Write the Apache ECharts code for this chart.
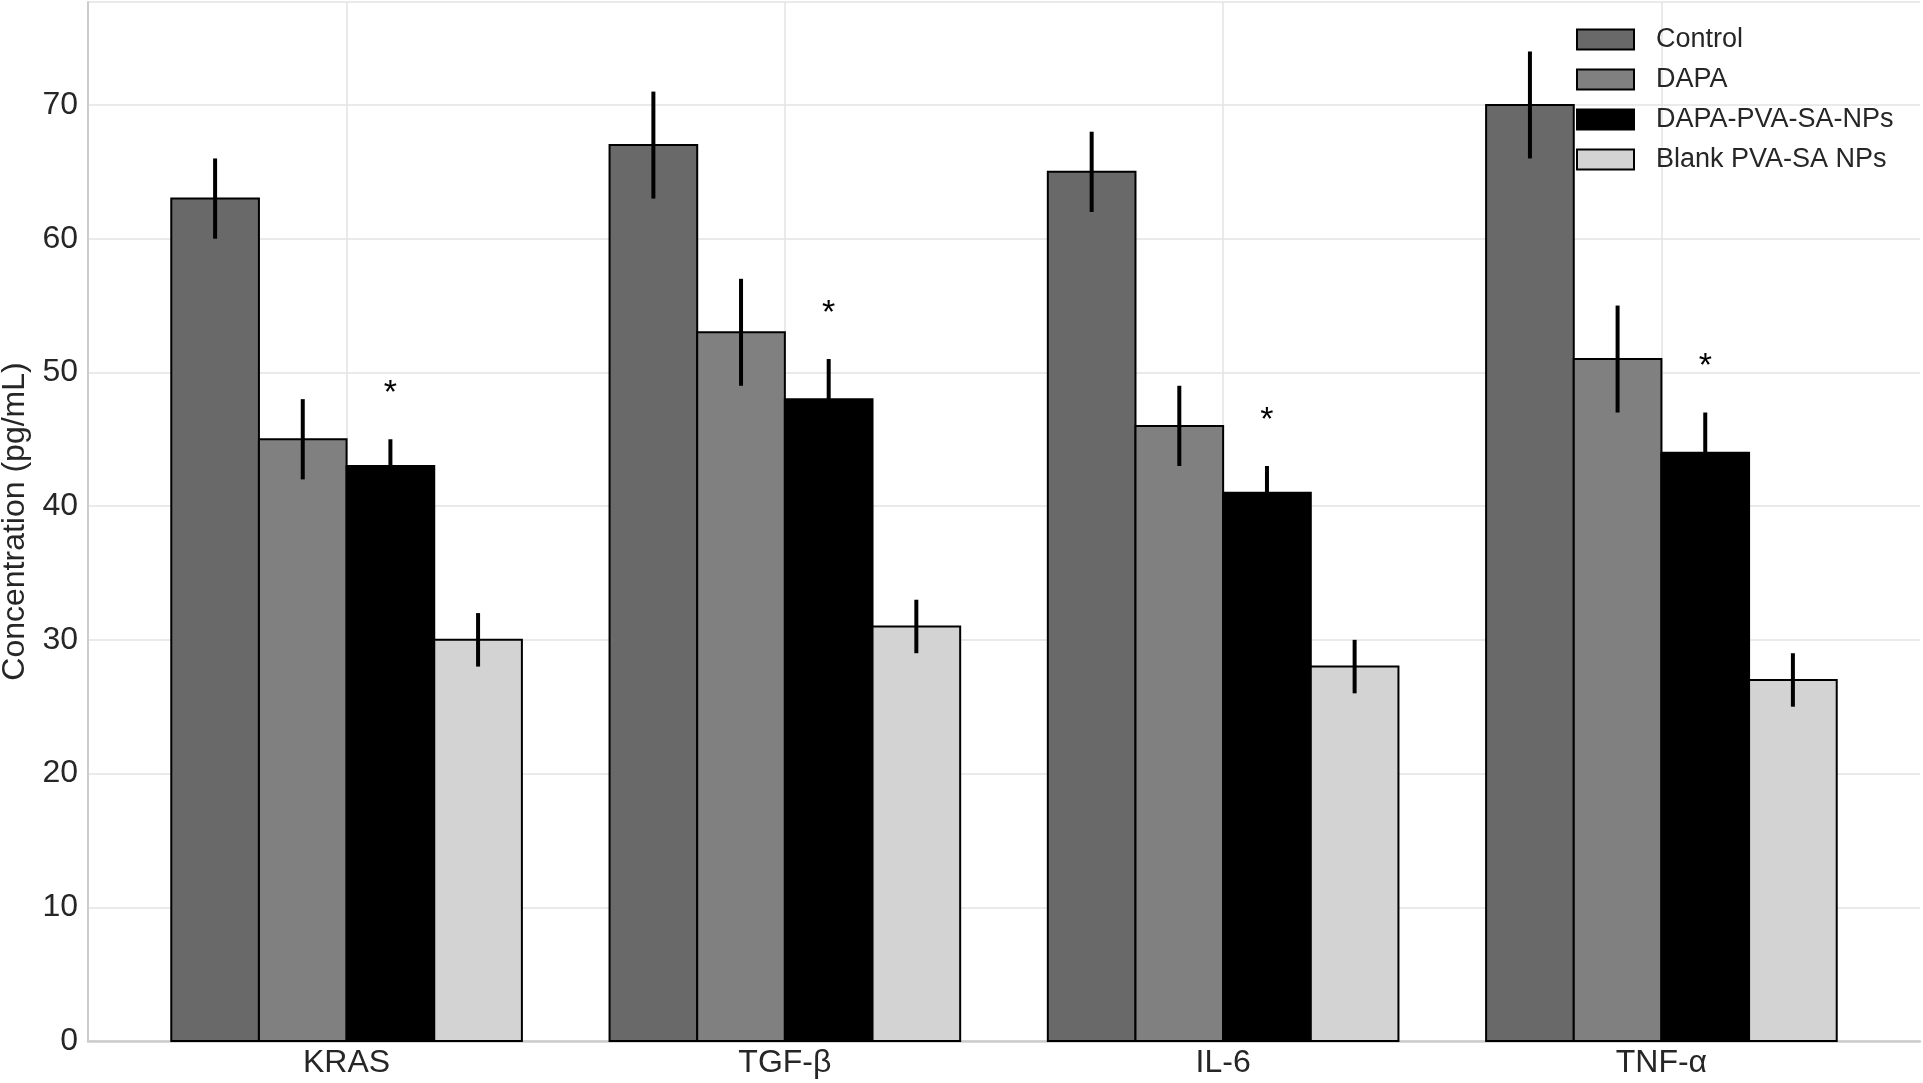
<!DOCTYPE html>
<html>
<head>
<meta charset="utf-8">
<script src="https://cdn.jsdelivr.net/npm/echarts@6/dist/echarts.min.js"></script>
<style>
html,body{margin:0;padding:0;background:#fff;}
#chart{width:1923px;height:1083px;}
</style>
</head>
<body>
<div id="chart"></div>
<script>
// ---- data ----
var categories = ['KRAS', 'TGF-\u03b2', 'IL-6', 'TNF-\u03b1'];
var seriesNames = ['Control', 'DAPA', 'DAPA-PVA-SA-NPs', 'Blank PVA-SA NPs'];
var controlValues = [63, 67, 65, 70];
var controlErrors = [3, 4, 3, 4];
var dapaValues = [45, 53, 46, 51];
var dapaErrors = [3, 4, 3, 4];
var npValues = [43, 48, 41, 44];
var npErrors = [2, 3, 2, 3];
var blankValues = [30, 31, 28, 27];
var blankErrors = [2, 2, 2, 2];
var npSignificance = ['*', '*', '*', '*'];
var yTicks = [0, 10, 20, 30, 40, 50, 60, 70];

// ---- style ----
var colors = ['#696969', '#808080', '#000000', '#d3d3d3'];
var FONT = 'Liberation Sans, Arial, sans-serif';
var barW = 0.2;
var offsets = [-0.3, -0.1, 0.1, 0.3];

var allValues = [controlValues, dapaValues, npValues, blankValues];
var allErrors = [controlErrors, dapaErrors, npErrors, blankErrors];
var allMarks = [null, null, npSignificance, null];

function makeRender(si) {
  return function (params, api) {
    var c = api.value(0), v = api.value(1), e = api.value(2);
    var x = c + offsets[si];
    var p0 = api.coord([x - barW / 2, v]);
    var p1 = api.coord([x + barW / 2, 0]);
    var children = [{
      type: 'rect',
      shape: { x: p0[0], y: p0[1], width: p1[0] - p0[0], height: p1[1] - p0[1] },
      style: { fill: colors[si], stroke: '#000', lineWidth: 2 }
    }];
    var pt = api.coord([x, v + e]), pb = api.coord([x, v - e]);
    children.push({
      type: 'line',
      shape: { x1: pt[0], y1: pt[1], x2: pb[0], y2: pb[1] },
      style: { stroke: '#000', lineWidth: 4 }
    });
    var marks = allMarks[si];
    if (marks && marks[params.dataIndex]) {
      var pa = api.coord([x, v + e + 3.4]);
      children.push({
        type: 'text', x: pa[0], y: pa[1],
        style: { text: marks[params.dataIndex], fontSize: 34, fontFamily: FONT, fill: '#000', align: 'center', verticalAlign: 'middle' }
      });
    }
    return { type: 'group', children: children };
  };
}

var series = seriesNames.map(function (name, si) {
  return {
    name: name,
    type: 'custom',
    renderItem: makeRender(si),
    itemStyle: { color: colors[si], borderColor: '#000', borderWidth: 2 },
    encode: { x: 0, y: 1 },
    data: categories.map(function (cat, ci) { return [ci, allValues[si][ci], allErrors[si][ci]]; })
  };
});

var chart = echarts.init(document.getElementById('chart'), null, { renderer: 'canvas' });
chart.setOption({
  animation: false,
  backgroundColor: '#fff',
  grid: { left: 88, right: 3, top: 2, bottom: 42, containLabel: false, outerBoundsMode: 'none' },
  legend: {
    left: 1576, top: 26, orient: 'vertical', padding: 0,
    itemWidth: 57, itemHeight: 20, itemGap: 13,
    icon: 'rect',
    textStyle: { fontSize: 27, fontFamily: FONT, color: '#262626', padding: [0, 0, 0, 17] },
    data: seriesNames.map(function (n, i) {
      return { name: n, icon: 'rect', itemStyle: { color: colors[i], borderColor: '#000', borderWidth: 2 } };
    })
  },
  xAxis: {
    type: 'value', min: -0.59, max: 3.59,
    axisLine: { show: true, onZero: false, lineStyle: { color: '#cccccc', width: 2.5 } },
    axisTick: { show: false, customValues: [0, 1, 2, 3] },
    axisLabel: {
      customValues: [0, 1, 2, 3],
      formatter: function (v) { return categories[Math.round(v)]; },
      fontSize: 32, fontFamily: FONT, color: '#262626', margin: 6
    },
    splitLine: { show: true, lineStyle: { color: '#e3e3e3', width: 1.5 } }
  },
  yAxis: {
    type: 'value', min: 0, max: 77.7, interval: 10,
    name: 'Concentration (pg/mL)', nameLocation: 'middle', nameGap: 56,
    nameTextStyle: { fontSize: 32, fontFamily: FONT, color: '#262626' },
    axisLine: { show: true, onZero: false, lineStyle: { color: '#cccccc', width: 2 } },
    axisTick: { show: false },
    axisLabel: {
      customValues: yTicks,
      fontSize: 32, fontFamily: FONT, color: '#262626', margin: 10
    },
    splitLine: { show: true, lineStyle: { color: '#e3e3e3', width: 1.5 } }
  },
  series: series
});
</script>
</body>
</html>
